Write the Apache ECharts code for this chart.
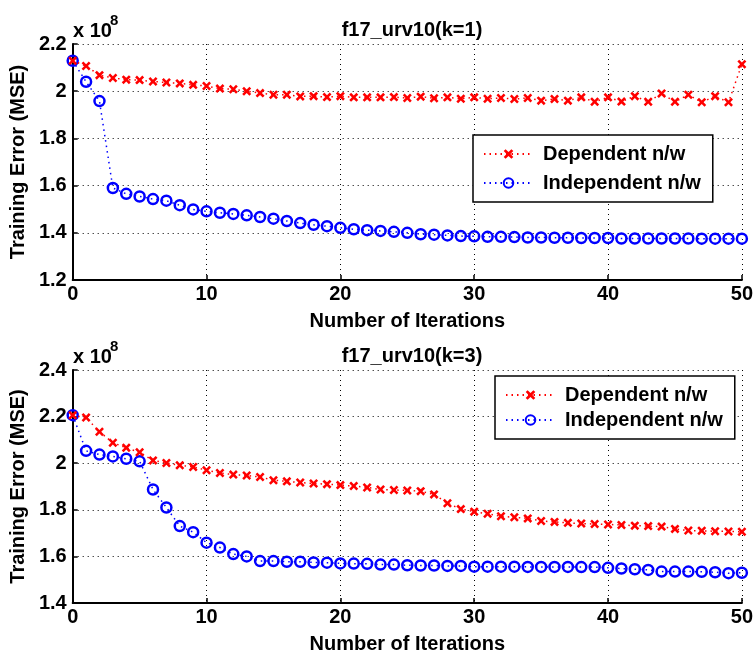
<!DOCTYPE html>
<html>
<head>
<meta charset="utf-8">
<script src="https://cdn.jsdelivr.net/npm/echarts@6/dist/echarts.min.js"></script>
<style>
html,body{margin:0;padding:0;background:#fff;}
#c{width:756px;height:655px;}
</style>
</head>
<body>
<div id="c"></div>
<script>
// Data (Training error in units of 1e8)
const iterations = [0,1,2,3,4,5,6,7,8,9,10,11,12,13,14,15,16,17,18,19,20,21,22,23,24,25,26,27,28,29,30,31,32,33,34,35,36,37,38,39,40,41,42,43,44,45,46,47,48,49,50];
const titles = ['f17_urv10(k=1)', 'f17_urv10(k=3)'];
const legendNames = ['Dependent n/w', 'Independent n/w'];
const xTicks = [0, 10, 20, 30, 40, 50];
const yTicksTop = [1.2, 1.4, 1.6, 1.8, 2.0, 2.2];
const yTicksBottom = [1.4, 1.6, 1.8, 2.0, 2.2, 2.4];

const depK1 = [2.129,2.107,2.068,2.056,2.049,2.047,2.041,2.037,2.033,2.027,2.022,2.011,2.008,2.000,1.992,1.985,1.985,1.978,1.979,1.975,1.979,1.974,1.974,
  1.974,1.975,1.971,1.977,1.970,1.974,1.968,1.974,1.968,1.971,1.967,1.971,1.960,1.967,1.960,1.974,1.955,1.974,1.956,1.979,1.955,1.990,1.955,1.985,1.953,1.979,1.953,2.114];
const indK1 = [2.129,2.040,1.958,1.590,1.565,1.554,1.543,1.536,1.517,1.499,1.491,1.485,1.480,1.474,1.467,1.460,1.450,1.441,1.434,1.428,1.421,1.415,1.411,
  1.408,1.404,1.400,1.394,1.392,1.389,1.386,1.385,1.383,1.383,1.382,1.380,1.380,1.379,1.379,1.378,1.378,1.378,1.376,1.376,1.376,1.376,1.376,1.376,1.375,1.375,1.375,1.375];
const depK3 = [2.206,2.196,2.135,2.088,2.066,2.047,2.012,2.001,1.991,1.984,1.970,1.958,1.951,1.947,1.941,1.927,1.922,1.917,1.913,1.910,1.906,1.902,1.896,
  1.887,1.885,1.883,1.880,1.866,1.828,1.803,1.792,1.783,1.772,1.768,1.763,1.752,1.748,1.744,1.741,1.739,1.737,1.735,1.732,1.730,1.728,1.718,1.711,1.710,1.708,1.707,1.706];
const indK3 = [2.206,2.053,2.037,2.029,2.019,2.008,1.887,1.810,1.730,1.704,1.659,1.638,1.610,1.600,1.580,1.580,1.577,1.577,1.574,1.573,1.570,1.569,1.568,
  1.565,1.565,1.562,1.561,1.561,1.559,1.559,1.556,1.556,1.556,1.556,1.555,1.555,1.555,1.555,1.554,1.554,1.551,1.548,1.545,1.542,1.535,1.535,1.535,1.534,1.532,1.528,1.530];

const FONT = '"Liberation Sans", Arial, Helvetica, sans-serif';
const xSym = 'path://M0,2 L2,0 L5,3 L8,0 L10,2 L7,5 L10,8 L8,10 L5,7 L2,10 L0,8 L3,5 Z';

function pairs(arr){ return iterations.map((x,i)=>[x, arr[i]]); }

const grids = [
  {left:72, top:44, width:671, height:236},
  {left:72, top:370, width:671, height:237}
];

function xAx(gi){
  return {
    type:'value', gridIndex:gi, min:xTicks[0], max:xTicks[xTicks.length-1], interval:10,
    name:'Number of Iterations', nameLocation:'middle', nameGap:31,
    nameTextStyle:{fontFamily:FONT, fontWeight:'bold', fontSize:20, color:'#000'},
    axisLine:{show:true, onZero:false, lineStyle:{color:'#000', width:2}},
    axisTick:{show:true, inside:true, length:5, lineStyle:{color:'#000', width:1.5}},
    axisLabel:{fontFamily:FONT, fontWeight:'bold', fontSize:20, color:'#000', margin:4},
    splitLine:{show:true, lineStyle:{color:'#000', width:1, type:[1,4]}}
  };
}
function yAx(gi, ticks){
  return {
    type:'value', gridIndex:gi, min:ticks[0], max:ticks[ticks.length-1], interval:0.2,
    name:'Training Error (MSE)', nameLocation:'middle', nameGap:44, nameRotate:90,
    nameTextStyle:{fontFamily:FONT, fontWeight:'bold', fontSize:20, color:'#000'},
    axisLine:{show:true, onZero:false, lineStyle:{color:'#000', width:2}},
    axisTick:{show:true, inside:true, length:5, lineStyle:{color:'#000', width:1.5}},
    axisLabel:{fontFamily:FONT, fontWeight:'bold', fontSize:20, color:'#000', margin:6,
      formatter:v=>String(+(+v).toFixed(1))},
    splitLine:{show:true, lineStyle:{color:'#000', width:1, type:[1,4]}}
  };
}
function depSeries(gi, arr){
  return {
    name:legendNames[0], type:'line', xAxisIndex:gi, yAxisIndex:gi, data:pairs(arr),
    symbol:xSym, symbolSize:9, showAllSymbol:true,
    lineStyle:{color:'#ff0000', width:1.5, type:[1.5,4]},
    itemStyle:{color:'#ff0000'}, animation:false, z:3
  };
}
function indSeries(gi, arr){
  return {
    name:legendNames[1], type:'line', xAxisIndex:gi, yAxisIndex:gi, data:pairs(arr),
    symbol:'circle', symbolSize:10, showAllSymbol:true,
    lineStyle:{color:'#0000ff', width:1.5, type:[1.5,4]},
    itemStyle:{color:'rgba(255,255,255,0)', borderColor:'#0000ff', borderWidth:2.5}, animation:false, z:2
  };
}
function legend(left, top, gap){
  return {
    orient:'vertical', left:left, top:top, itemWidth:49, itemHeight:12, itemGap:gap,
    padding:[9,12,9,10], borderColor:'#000', borderWidth:1.5, backgroundColor:'#fff',
    data:legendNames, selectedMode:false,
    textStyle:{fontFamily:FONT, fontWeight:'bold', fontSize:20, color:'#000', padding:[0,0,0,5]}
  };
}

const chart = echarts.init(document.getElementById('c'), null, {renderer:'canvas'});
chart.setOption({
  animation:false,
  backgroundColor:'#fff',
  title:[
    {text:titles[0], left:407, top:15, textAlign:'center', textStyle:{fontFamily:FONT, fontWeight:'bold', fontSize:20, color:'#000'}},
    {text:titles[1], left:407, top:341, textAlign:'center', textStyle:{fontFamily:FONT, fontWeight:'bold', fontSize:20, color:'#000'}}
  ],
  grid:grids,
  xAxis:[xAx(0), xAx(1)],
  yAxis:[yAx(0, yTicksTop), yAx(1, yTicksBottom)],
  legend:[legend(473, 135, 9), legend(495, 376, 5)],
  series:[depSeries(0, depK1), indSeries(0, indK1), depSeries(1, depK3), indSeries(1, indK3)],
  graphic:[
    {type:'text', left:73, top:21, style:{text:'x 10', font:'bold 20px '+FONT, fill:'#000'}},
    {type:'text', left:110, top:13, style:{text:'8', font:'bold 15px '+FONT, fill:'#000'}},
    {type:'text', left:73, top:347, style:{text:'x 10', font:'bold 20px '+FONT, fill:'#000'}},
    {type:'text', left:110, top:339, style:{text:'8', font:'bold 15px '+FONT, fill:'#000'}}
  ]
});
</script>
</body>
</html>
